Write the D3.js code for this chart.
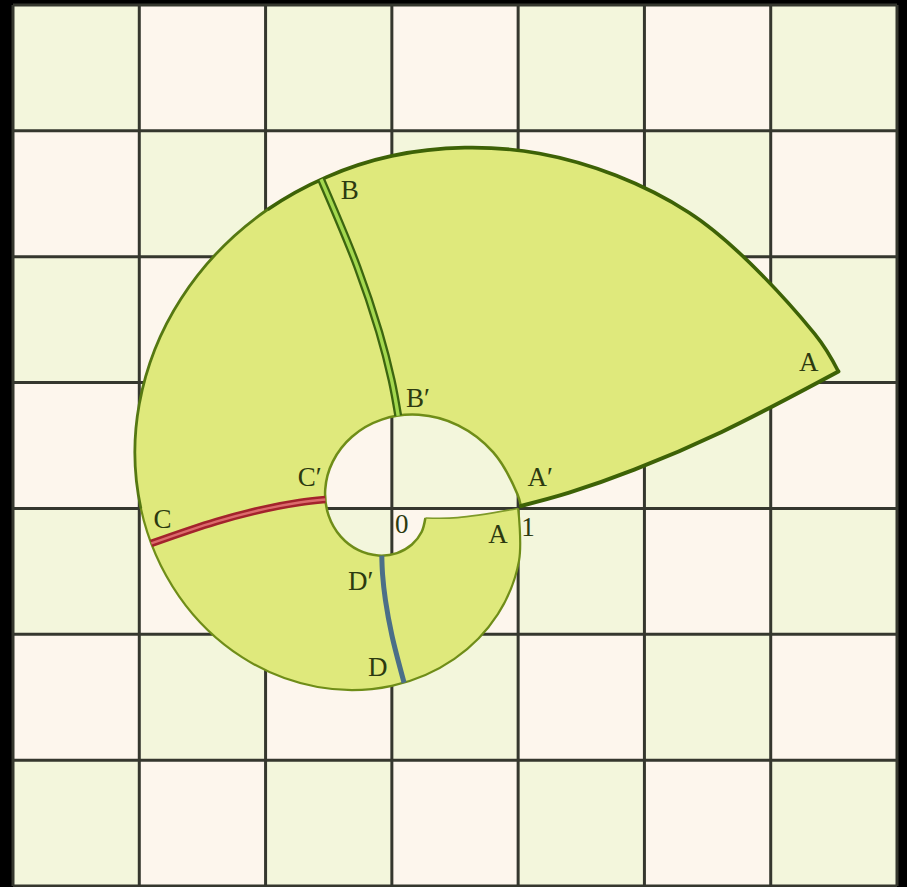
<!DOCTYPE html>
<html>
<head>
<meta charset="utf-8">
<script src="https://cdn.jsdelivr.net/npm/d3@7"></script>
<style>
  html, body { margin: 0; padding: 0; background: #000; }
  svg { display: block; }
</style>
</head>
<body>
<div id="chart"></div>
<script>
// grid ticks (unit squares), data units
const ticks = [-3, -2, -1, 0, 1, 2, 3, 4];

// outer boundary, from A (1,0) clockwise round to the far corner A
const outerSpiral = [
  [1.0000, 0.0000], [1.0067, -0.4170], [0.8395, -0.8395], [0.4951, -1.1952],
  [0.0000, -1.4097], [-0.5878, -1.4191], [-1.1835, -1.1835], [-1.6849, -0.6979],
  [-1.9872, 0.0000], [-2.0005, 0.8286], [-1.6684, 1.6684], [-0.9838, 2.3751],
  [0.0000, 2.8012], [1.1681, 2.8200], [2.3517, 2.3517], [3.3481, 1.3869],
  [3.5360, 1.0877]
];

// inner boundary (the hole), same sweep
const innerSpiral = [
  [0.2655, -0.0761], [0.2355, -0.1873], [0.1590, -0.2868], [0.0404, -0.3550],
  [-0.1073, -0.3743], [-0.2641, -0.3320], [-0.4043, -0.2241], [-0.5005, -0.0570],
  [-0.5276, 0.1513], [-0.4680, 0.3723], [-0.3159, 0.5700], [-0.0804, 0.7055],
  [0.2132, 0.7437], [0.5248, 0.6598], [0.8034, 0.4453], [0.9945, 0.1133],
  [1.0216, 0.0196]
];

// cross curves, inner end first
const bottomEdge = [[0.2655, -0.0761], [0.5204, -0.0731], [1.0000, 0.0000]];
const crossA = [[1.0216, 0.0196], [1.4039, 0.1253], [1.9197, 0.3075], [2.6119, 0.6078], [3.5360, 1.0877]];
const crossB = [[0.0502, 0.7371], [-0.0018, 1.0191], [-0.1005, 1.4020], [-0.2732, 1.9196], [-0.5606, 2.6151]];
const crossC = [[-0.5270, 0.0713], [-0.7320, 0.0473], [-1.0118, -0.0053], [-1.3917, -0.1047], [-1.9047, -0.2779]];
const crossD = [[-0.0797, -0.3751], [-0.0736, -0.5238], [-0.0509, -0.7278], [0.0000, -1.0064], [0.0969, -1.3848]];

// labels: text and anchor in data units
const labelText = ["B", "B\u2032", "A", "A\u2032", "C\u2032", "C", "0", "A", "1", "D\u2032", "D"];
const labelX = [-0.333, 0.206, 3.302, 1.175, -0.651, -1.817, 0.079, 0.841, 1.079, -0.246, -0.111];
const labelY = [2.532, 0.881, 1.167, 0.246, 0.246, -0.087, -0.127, -0.206, -0.151, -0.579, -1.262];

const width = 907, height = 887;

const x = d3.scaleLinear().domain([-3, 4]).range([13, 897]);
const y = d3.scaleLinear().domain([-3, 4]).range([886, 5]);

const svg = d3.select("#chart").append("svg")
  .attr("width", width)
  .attr("height", height);

svg.append("rect")
  .attr("width", width).attr("height", height)
  .attr("fill", "#000");

// checkerboard cells
const cells = [];
ticks.slice(0, -1).forEach((cx, i) => {
  ticks.slice(0, -1).forEach((cy, j) => {
    cells.push({ cx, cy, even: (i + (ticks.length - 2 - j)) % 2 === 0 });
  });
});

svg.append("g").selectAll("rect")
  .data(cells)
  .join("rect")
  .attr("x", d => x(d.cx))
  .attr("y", d => y(d.cy + 1))
  .attr("width", d => x(d.cx + 1) - x(d.cx))
  .attr("height", d => y(d.cy) - y(d.cy + 1))
  .attr("fill", d => d.even ? "#f3f6dc" : "#fdf6ed");

// grid lines
const grid = svg.append("g");
grid.selectAll(".vx")
  .data(ticks)
  .join("line")
  .attr("x1", d => x(d)).attr("x2", d => x(d))
  .attr("y1", y(4)).attr("y2", y(-3))
  .attr("stroke", "#35372e").attr("stroke-width", 3);
grid.selectAll(".hy")
  .data(ticks)
  .join("line")
  .attr("y1", d => y(d)).attr("y2", d => y(d))
  .attr("x1", x(-3)).attr("x2", x(4))
  .attr("stroke", "#35372e").attr("stroke-width", 3);

const line = d3.line()
  .x(d => x(d[0]))
  .y(d => y(d[1]))
  .curve(d3.curveCatmullRom.alpha(0.5));

// filled region: outer, edge back to A', inner reversed, bottom edge
const join = (...parts) => parts.map((p, i) => i ? line(p).replace(/^M/, "L") : line(p)).join("") + "Z";
const regionPath = join(
  outerSpiral,
  crossA.slice().reverse(),
  innerSpiral.slice().reverse(),
  bottomEdge
);

svg.append("path")
  .attr("d", regionPath)
  .attr("fill", "#dfe97c")
  .attr("stroke", "none");

const strokeG = svg.append("g").attr("fill", "none");

strokeG.append("path").attr("d", line(innerSpiral))
  .attr("stroke", "#6f8d18").attr("stroke-width", 2.5);
strokeG.append("path").attr("d", line(bottomEdge))
  .attr("stroke", "#7f9a2a").attr("stroke-width", 1.6);

// outer boundary: one curve, drawn in stretches that get darker and heavier
const outerD = line(outerSpiral);
const lenTo = k => {
  const p = svg.append("path").attr("d", line(outerSpiral.slice(0, k + 1)));
  const L = p.node().getTotalLength();
  p.remove();
  return L;
};
const total = lenTo(outerSpiral.length - 1);
const stretches = [
  { from: 0, to: lenTo(8), color: "#6f8d18", w: 2.2 },
  { from: lenTo(8), to: lenTo(11), color: "#557812", w: 2.8 },
  { from: lenTo(11), to: total, color: "#3d6206", w: 3.6 }
];
strokeG.selectAll(".outer")
  .data(stretches)
  .join("path")
  .attr("d", outerD)
  .attr("stroke", d => d.color)
  .attr("stroke-width", d => d.w)
  .attr("stroke-dasharray", d => `0 ${d.from} ${d.to - d.from + 0.5} ${total + 10}`);

strokeG.append("path").attr("d", line(crossA))
  .attr("stroke", "#3d6206").attr("stroke-width", 4)
  .attr("stroke-linecap", "round");

// cut lines
const cuts = [
  { pts: crossB, color: "#3c6510", w: 8 },
  { pts: crossB, color: "#a3d84e", w: 3.4 },
  { pts: crossC, color: "#a3232c", w: 7.5 },
  { pts: crossC, color: "#dc6a6c", w: 2.4 },
  { pts: crossD, color: "#4b6f88", w: 5 }
];

svg.append("g").selectAll("path")
  .data(cuts)
  .join("path")
  .attr("d", d => line(d.pts))
  .attr("fill", "none")
  .attr("stroke", d => d.color)
  .attr("stroke-width", d => d.w)
  .attr("stroke-linecap", "butt");

// labels
svg.append("g").selectAll("text")
  .data(labelText)
  .join("text")
  .attr("x", (d, i) => x(labelX[i]))
  .attr("y", (d, i) => y(labelY[i]))
  .attr("text-anchor", "middle")
  .attr("dominant-baseline", "central")
  .attr("font-family", "'Liberation Serif', 'DejaVu Serif', serif")
  .attr("font-size", 27)
  .attr("fill", "#2c3a10")
  .text(d => d);
</script>
</body>
</html>
